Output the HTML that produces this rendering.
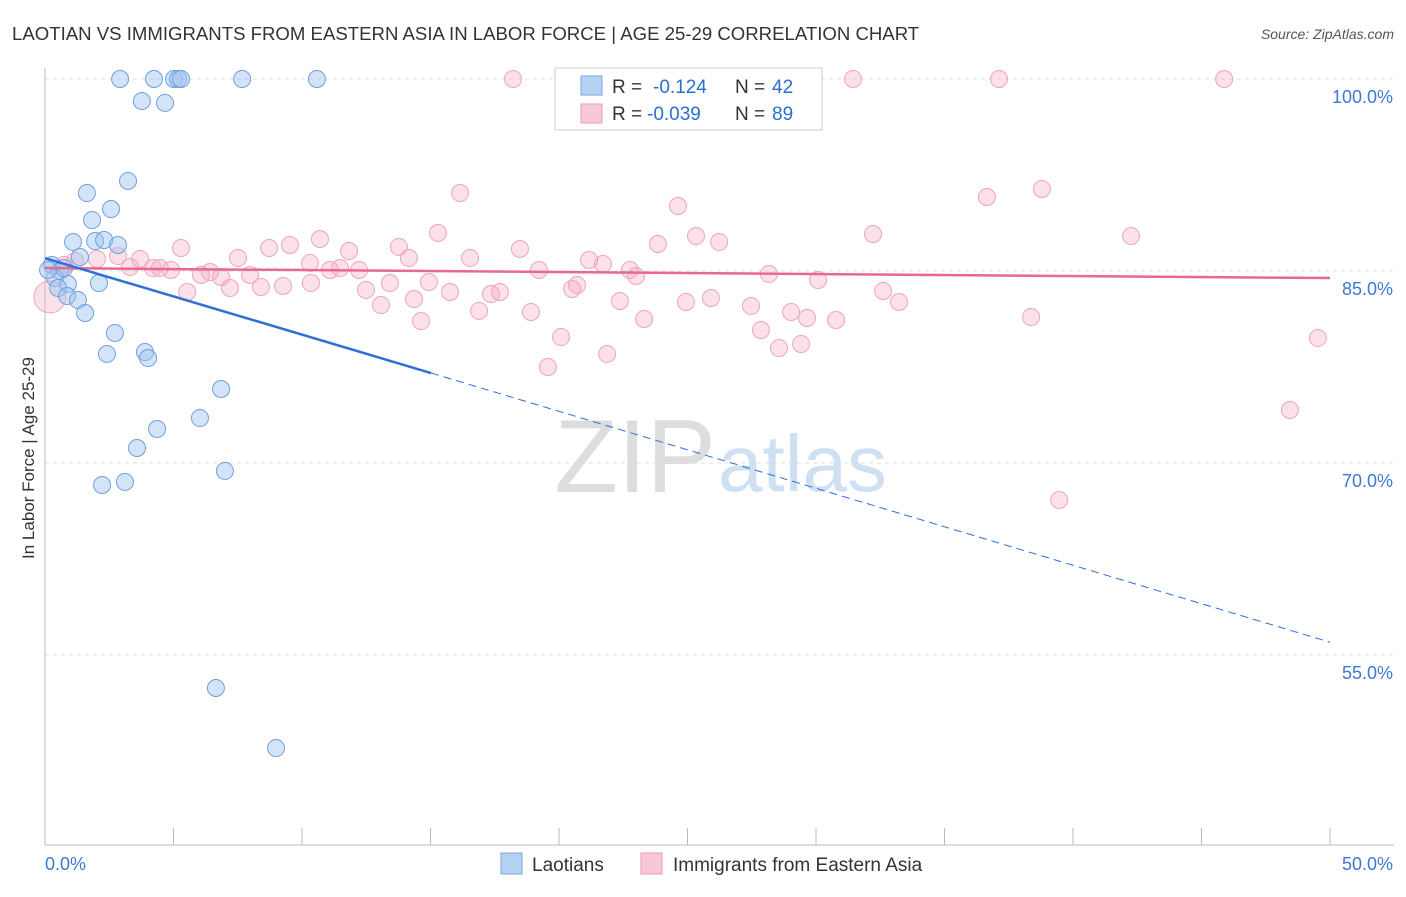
<!DOCTYPE html>
<html><head><meta charset="utf-8"><style>
body{margin:0;background:#fff;font-family:"Liberation Sans",sans-serif;}
svg text{font-family:"Liberation Sans",sans-serif;}
</style></head><body>
<svg id="c" width="1406" height="892" xmlns="http://www.w3.org/2000/svg">
<text x="12" y="40" font-size="18.6" fill="#333">LAOTIAN VS IMMIGRANTS FROM EASTERN ASIA IN LABOR FORCE | AGE 25-29 CORRELATION CHART</text>
<text x="1394" y="39" font-size="14" fill="#555" font-style="italic" text-anchor="end">Source: ZipAtlas.com</text>
<text x="34" y="458" font-size="17" fill="#333" text-anchor="middle" transform="rotate(-90 34 458)">In Labor Force | Age 25-29</text>
<g id="grid"></g>
<text x="716" y="492" font-size="104" fill="#ddd" text-anchor="end" font-family="Liberation Serif">ZIP</text>
<text x="718" y="491" font-size="80" fill="#cfe0f3">atlas</text>
<g id="marks"></g>
<g>
<rect x="555" y="68" width="267" height="62" fill="#fff" stroke="#ccc"/>
<rect x="581" y="76" width="21" height="19" fill="#b7d1f3" stroke="#7aa7e0"/>
<rect x="581" y="104" width="21" height="19" fill="#f9c8d6" stroke="#eb9ab2"/>
<text x="612" y="93" font-size="19" fill="#333">R =</text>
<text x="653" y="93" font-size="19" fill="#2a6fd0">-0.124</text>
<text x="735" y="93" font-size="19" fill="#333">N =</text>
<text x="772" y="93" font-size="19" fill="#2a6fd0">42</text>
<text x="612" y="120" font-size="19" fill="#333">R =</text>
<text x="647" y="120" font-size="19" fill="#2a6fd0">-0.039</text>
<text x="735" y="120" font-size="19" fill="#333">N =</text>
<text x="772" y="120" font-size="19" fill="#2a6fd0">89</text>
</g>
<g>
<rect x="501" y="853" width="21" height="21" fill="#b7d1f3" stroke="#7aa7e0"/>
<text x="532" y="871" font-size="19" fill="#333">Laotians</text>
<rect x="641" y="853" width="21" height="21" fill="#f9c8d6" stroke="#eb9ab2"/>
<text x="673" y="871" font-size="19" fill="#333">Immigrants from Eastern Asia</text>
</g>
</svg>
<script>
const xTicks=[0,50];
const yTicks=[55,70,85,100];
const blueX=[2.92,4.24,5.02,5.18,5.29,7.67,10.58,3.77,4.67,3.23,1.63,2.57,1.83,1.09,1.95,2.30,2.84,1.36,0.27,0.58,0.39,0.89,0.51,2.10,0.86,1.28,1.56,2.72,2.41,3.89,4.01,6.85,6.03,4.36,3.58,7.00,2.22,3.11,6.65,8.99,0.12,0.74];
const blueY=[100,100,100,100,100,100,100,98.28,98.13,92.03,91.09,89.84,88.98,87.27,87.34,87.42,87.03,86.09,85.47,85,84.45,83.98,83.67,84.06,83.05,82.73,81.72,80.16,78.52,78.67,78.2,75.78,73.52,72.66,71.17,69.38,68.28,68.52,52.42,47.73,85.08,85.23];
const pinkX=[18.21,31.44,37.12,45.88,16.15,24.63,38.79,36.65,15.29,32.22,42.26,25.33,26.23,23.85,10.70,5.29,8.72,9.53,11.83,13.77,14.16,18.48,16.54,7.51,3.70,2.84,2.02,1.17,0.74,10.31,11.48,21.17,21.71,22.76,23.0,19.22,12.22,11.09,6.42,6.07,6.85,7.98,4.90,4.20,3.31,4.47,28.17,30.08,14.94,13.42,12.49,10.35,9.26,8.40,7.20,5.53,14.36,15.76,17.70,17.35,20.70,20.51,22.37,24.94,25.91,27.47,32.61,33.23,13.07,16.89,18.91,23.31,14.63,29.03,29.65,30.78,27.86,38.37,20.08,21.87,28.56,29.42,19.57,49.53,48.44,39.46,0.19];
const pinkY=[100,100,100,100,91.09,90.08,91.41,90.78,87.97,87.89,87.73,87.73,87.27,87.11,87.5,86.8,86.8,87.03,86.56,86.88,86.02,86.72,86.02,86.02,85.94,86.17,85.94,85.78,85.47,85.63,85.23,85.86,85.55,85.08,84.61,85.08,85.08,85.08,84.92,84.69,84.53,84.69,85.08,85.23,85.31,85.23,84.77,84.3,84.14,84.06,83.52,84.06,83.83,83.75,83.67,83.36,82.81,83.36,83.36,83.2,83.91,83.59,82.66,82.58,82.89,82.27,83.44,82.58,82.34,81.88,81.8,81.25,81.09,81.8,81.33,81.17,80.39,81.41,79.84,78.52,78.98,79.3,77.5,79.77,74.14,67.11,82.97];
const blueTrend=[86.0,77.03,56.0];
const blueTrendX=[0,15.02,50];
const pinkTrend=[85.23,84.45];
const NS="http://www.w3.org/2000/svg";
const X=v=>45+v*25.7, Y=v=>79+(100-v)*12.8;
const svg=document.getElementById('c'), grid=document.getElementById('grid'), marks=document.getElementById('marks');
function mk(p,tag,a){const e=document.createElementNS(NS,tag);for(const k in a)e.setAttribute(k,a[k]);p.appendChild(e);return e;}
let ax=mk(grid,'line',{x1:45,y1:68,x2:45,y2:845,stroke:'#bbb'});


let bx=mk(grid,'line',{x1:45,y1:845,x2:1394,y2:845,stroke:'#bbb'});


for(let i=1;i<=10;i++){const t=mk(grid,'line',{x1:45+i*128.5,y1:828,x2:45+i*128.5,y2:845,stroke:'#bbb'});

}
yTicks.forEach(v=>{const l=mk(grid,'line',{x1:45,y1:Y(v),x2:1394,y2:Y(v),stroke:'#ddd','stroke-dasharray':'4,4'});


const t=mk(grid,'text',{x:1393,y:Y(v)+24,'font-size':18,fill:'#3b78d8','text-anchor':'end'});t.textContent=v.toFixed(1)+'%';

});
xTicks.forEach((v,i)=>{const t=mk(grid,'text',{x:i?1393:45,y:870,'font-size':18,fill:'#3b78d8','text-anchor':i?'end':'start'});t.textContent=v.toFixed(1)+'%';

});
pinkX.forEach((x,i)=>{const c=mk(marks,'circle',{cx:X(x),cy:Y(pinkY[i]),r:i==pinkX.length-1?16:8.5,fill:'rgba(246,170,195,0.35)',stroke:'#eea4bb','stroke-width':1});

});
blueX.forEach((x,i)=>{const c=mk(marks,'circle',{cx:X(x),cy:Y(blueY[i]),r:8.5,fill:'rgba(160,195,240,0.45)',stroke:'#6f9fdf','stroke-width':1});

});
let pl=mk(marks,'line',{x1:X(0),y1:Y(pinkTrend[0]),x2:X(50),y2:Y(pinkTrend[1]),stroke:'#e8698f','stroke-width':2.5});


let bl=mk(marks,'line',{x1:X(blueTrendX[0]),y1:Y(blueTrend[0]),x2:X(blueTrendX[1]),y2:Y(blueTrend[1]),stroke:'#2f6fd6','stroke-width':2.5});


let bd=mk(marks,'line',{x1:X(blueTrendX[1]),y1:Y(blueTrend[1]),x2:X(blueTrendX[2]),y2:Y(blueTrend[2]),stroke:'#2f6fd6','stroke-width':1,'stroke-dasharray':'8,5'});


</script>
</body></html>
